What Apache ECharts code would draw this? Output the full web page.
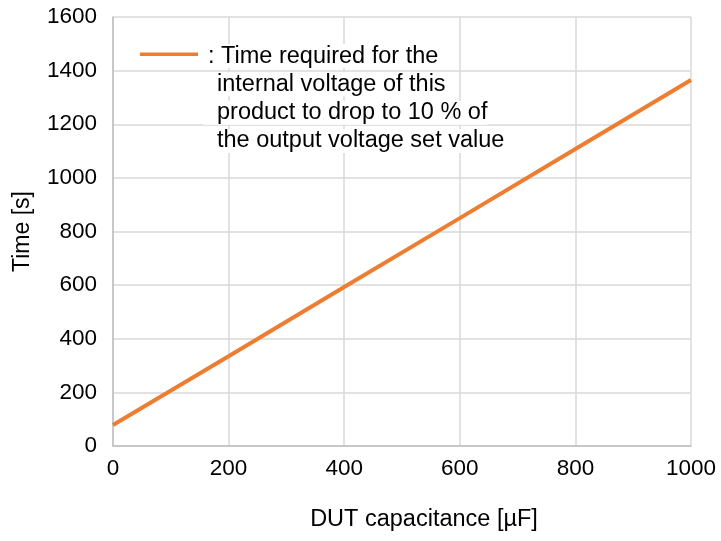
<!DOCTYPE html>
<html><head><meta charset="utf-8">
<script src="https://cdn.jsdelivr.net/npm/echarts@6/dist/echarts.min.js"></script>
<style>html,body{margin:0;padding:0;background:#fff}#c{width:721px;height:541px}</style>
</head><body><div id="c"></div>
<script>
const capacitance = [0, 200, 400, 600, 800, 1000];
const timeValues = [78, 335, 593, 850, 1108, 1365];
const xTicks = [0, 200, 400, 600, 800, 1000];
const yTicks = [0, 200, 400, 600, 800, 1000, 1200, 1400, 1600];
const seriesName = 'Time required';
const legendLines = ['Time required for the', 'internal voltage of this', 'product to drop to 10 % of', 'the output voltage set value'];

const chart = echarts.init(document.getElementById('c'), null, {renderer: 'canvas'});
const font = 'Liberation Sans, Arial, sans-serif';
const LH = 28.3;
const rich = {
  a: {fontFamily: font, fontSize: 23.5, color: '#000', lineHeight: LH, backgroundColor: '#fff', padding: [0, 0, 0, 5]},
  b: {fontFamily: font, fontSize: 23.5, color: '#000', lineHeight: LH, backgroundColor: '#fff', padding: [0, 0, 0, 14]}
};
chart.setOption({
  animation: false,
  backgroundColor: '#fff',
  grid: {left: 113, right: 30, top: 17, bottom: 95, containLabel: false},
  legend: {
    left: 135, top: 37,
    itemWidth: 58, itemHeight: 113, itemGap: 0,
    icon: 'path://M0,10.6H58V14.1H0Z M0,0h0.01v0.01h-0.01Z M0,113h0.01v0.01h-0.01Z',
    data: [seriesName],
    formatter: () => '{a|: ' + legendLines[0] + '}\n' + legendLines.slice(1).map(s => '{b|' + s + '}').join('\n'),
    textStyle: {rich: rich, fontFamily: font, fontSize: 23.5}
  },
  xAxis: {
    type: 'value', min: 0, max: 1000, interval: 200,
    name: 'DUT capacitance [µF]', nameLocation: 'middle', nameGap: 62,
    nameTextStyle: {fontFamily: font, fontSize: 23.5, color: '#000', padding: [0, 0, 0, 44]},
    axisLine: {show: true, lineStyle: {color: '#bfbfbf', width: 1.5}},
    axisTick: {show: false},
    axisLabel: {fontFamily: font, fontSize: 22.5, color: '#000', margin: 11,
      formatter: v => xTicks.includes(v) ? String(v) : ''},
    splitLine: {show: true, lineStyle: {color: '#d9d9d9', width: 1.5}}
  },
  yAxis: {
    type: 'value', min: 0, max: 1600, interval: 200,
    name: 'Time [s]', nameLocation: 'middle', nameGap: 79, nameRotate: 90,
    nameTextStyle: {fontFamily: font, fontSize: 23, color: '#000'},
    axisLine: {show: true, lineStyle: {color: '#bfbfbf', width: 1.5}},
    axisTick: {show: false},
    axisLabel: {fontFamily: font, fontSize: 22.5, color: '#000', margin: 16,
      formatter: v => yTicks.includes(v) ? String(v) : ''},
    splitLine: {show: true, lineStyle: {color: '#d9d9d9', width: 1.5}}
  },
  series: [{
    name: seriesName, type: 'line',
    data: capacitance.map((c, i) => [c, timeValues[i]]),
    showSymbol: false, symbol: 'none',
    lineStyle: {color: '#ED7D31', width: 4},
    itemStyle: {color: '#ED7D31'},
    z: 3
  }]
});
</script></body></html>
